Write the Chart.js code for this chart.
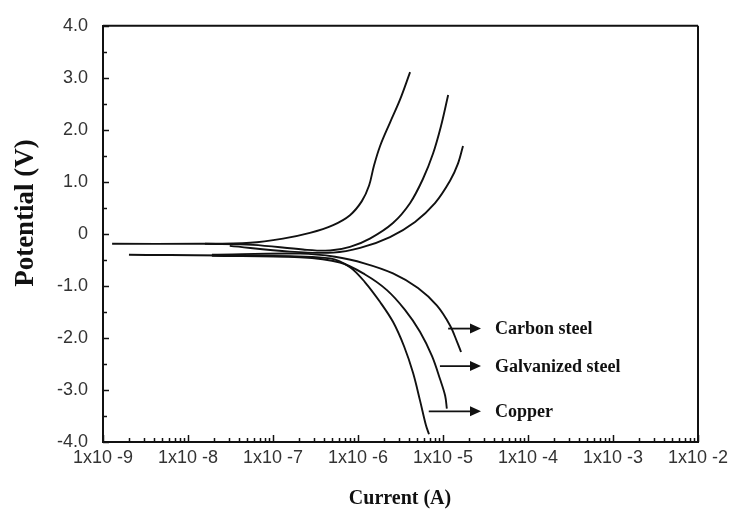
<!DOCTYPE html>
<html>
<head>
<meta charset="utf-8">
<script src="https://cdn.jsdelivr.net/npm/chart.js@4"></script>
<style>
  html, body { margin: 0; padding: 0; background: #fff; }
  #wrap { width: 739px; height: 516px; position: relative; }
</style>
</head>
<body>
<div id="wrap"><canvas id="chart"></canvas></div>
<script>
// Polarization curves: potential (V) vs current (A)

// anodic branches (upper)
const anodicCuI = [1.28e-9, 1.38e-8, 5.4e-8, 1.31e-7, 2.72e-7, 5.1e-7, 8.05e-7, 1.11e-6, 1.35e-6, 1.54e-6, 1.82e-6, 2.38e-6, 3.12e-6, 4.1e-6];
const anodicCuE = [-0.19, -0.19, -0.17, -0.09, 0.02, 0.17, 0.36, 0.63, 0.93, 1.31, 1.69, 2.14, 2.58, 3.11];
const anodicGalvI = [1.58e-8, 5.8e-8, 2.25e-7, 4.7e-7, 8.05e-7, 1.38e-6, 2.58e-6, 4.09e-6, 5.82e-6, 7.62e-6, 9.46e-6, 1.15e-5];
const anodicGalvE = [-0.19, -0.21, -0.30, -0.32, -0.25, -0.09, 0.21, 0.59, 1.06, 1.54, 2.07, 2.67];
const anodicCarbonI = [3.1e-8, 1.58e-7, 5.1e-7, 1.06e-6, 2.38e-6, 4.69e-6, 8.05e-6, 1.21e-5, 1.5e-5, 1.72e-5];
const anodicCarbonE = [-0.23, -0.34, -0.36, -0.27, -0.06, 0.23, 0.59, 1.02, 1.35, 1.69];

// cathodic branches (lower)
const cathCuI = [2.02e-9, 5.4e-8, 4.7e-7, 8.05e-7, 1.21e-6, 1.82e-6, 2.58e-6, 3.48e-6, 4.44e-6, 5.36e-6, 6.3e-6, 6.84e-6];
const cathCuE = [-0.40, -0.42, -0.47, -0.64, -0.93, -1.31, -1.69, -2.16, -2.67, -3.20, -3.68, -3.85];
const cathGalvI = [1.91e-8, 2.08e-7, 6.14e-7, 1.21e-6, 2.19e-6, 3.57e-6, 5.36e-6, 7.43e-6, 9.22e-6, 1.06e-5, 1.11e-5];
const cathGalvE = [-0.42, -0.45, -0.55, -0.78, -1.08, -1.46, -1.88, -2.35, -2.79, -3.11, -3.36];
const cathCarbonI = [1.91e-8, 2.08e-7, 5.36e-7, 1.21e-6, 2.58e-6, 5.08e-6, 8.5e-6, 1.21e-5, 1.46e-5, 1.63e-5];
const cathCarbonE = [-0.40, -0.38, -0.44, -0.57, -0.76, -1.04, -1.38, -1.76, -2.07, -2.27];

// axis ticks
const decadeExps = [-9, -8, -7, -6, -5, -4, -3, -2];
const potentialTicks = [-4, -3, -2, -1, 0, 1, 2, 3, 4];

// labels with arrows (pointing at cathodic branches)
const noteLabels = ['Carbon steel', 'Galvanized steel', 'Copper'];
const noteE = [-1.82, -2.54, -3.41];
const noteArrowFrom = [1.15e-5, 9.2e-6, 6.8e-6];
const noteArrowTo = [2.8e-5, 2.8e-5, 2.8e-5];
const noteTextAt = 4.1e-5;

const INK = '#111';

function pts(xs, ys) {
    return xs.map((x, i) => ({ x: x, y: ys[i] }));
}

function curve(label, xs, ys) {
    return {
        label: label,
        data: pts(xs, ys),
        showLine: true,
        borderColor: INK,
        borderWidth: 1.9,
        pointRadius: 0,
        tension: 0.35,
        fill: false
    };
}

// inward ticks, frame, titles and arrow notes
const decorations = {
    id: 'decorations',
    afterDraw(chart) {
        const ctx = chart.ctx;
        const xs = chart.scales.x, ys = chart.scales.y;
        const a = chart.chartArea;
        ctx.save();
        ctx.strokeStyle = INK;
        ctx.lineWidth = 1.5;

        // y ticks every 0.5
        for (let v = -4; v <= 4; v += 0.5) {
            const y = Math.round(ys.getPixelForValue(v)) + 0.5;
            const len = Number.isInteger(v) ? 6 : 4;
            ctx.beginPath();
            ctx.moveTo(a.left, y);
            ctx.lineTo(a.left + len, y);
            ctx.stroke();
        }
        // x ticks: decades + minor
        decadeExps.forEach(e => {
            for (let k = 1; k <= 9; k++) {
                const val = k * Math.pow(10, e);
                if (val > 1e-2 * 1.0001) break;
                const x = Math.round(xs.getPixelForValue(val)) + 0.5;
                const len = k === 1 ? 7 : 4;
                ctx.beginPath();
                ctx.moveTo(x, a.bottom);
                ctx.lineTo(x, a.bottom - len);
                ctx.stroke();
            }
        });

        // frame (top and right)
        ctx.lineWidth = 2;
        ctx.beginPath();
        ctx.moveTo(a.right, a.top);
        ctx.lineTo(a.right, a.bottom);
        ctx.moveTo(a.left, a.top);
        ctx.lineTo(a.right, a.top);
        ctx.stroke();

        // arrow notes
        ctx.fillStyle = INK;
        ctx.lineWidth = 1.8;
        ctx.font = 'bold 18px "Liberation Serif", "Times New Roman", serif';
        ctx.textBaseline = 'middle';
        ctx.textAlign = 'left';
        noteLabels.forEach((txt, i) => {
            const y = ys.getPixelForValue(noteE[i]);
            const x0 = xs.getPixelForValue(noteArrowFrom[i]);
            const x1 = xs.getPixelForValue(noteArrowTo[i]);
            ctx.beginPath();
            ctx.moveTo(x0, y);
            ctx.lineTo(x1 - 9, y);
            ctx.stroke();
            ctx.beginPath();
            ctx.moveTo(x1, y);
            ctx.lineTo(x1 - 11, y - 5);
            ctx.lineTo(x1 - 11, y + 5);
            ctx.closePath();
            ctx.fill();
            ctx.fillText(txt, xs.getPixelForValue(noteTextAt), y + 1);
        });

        // axis titles
        ctx.textAlign = 'center';
        ctx.font = 'bold 20px "Liberation Serif", "Times New Roman", serif';
        ctx.fillText('Current (A)', 400, 499);
        ctx.save();
        ctx.translate(26, 213);
        ctx.rotate(-Math.PI / 2);
        ctx.font = 'bold 27px "Liberation Serif", "Times New Roman", serif';
        ctx.fillText('Potential (V)', 0, 0);
        ctx.restore();

        ctx.restore();
    }
};

new Chart(document.getElementById('chart'), {
    type: 'scatter',
    data: {
        datasets: [
            curve('Copper (anodic)', anodicCuI, anodicCuE),
            curve('Galvanized steel (anodic)', anodicGalvI, anodicGalvE),
            curve('Carbon steel (anodic)', anodicCarbonI, anodicCarbonE),
            curve('Copper', cathCuI, cathCuE),
            curve('Galvanized steel', cathGalvI, cathGalvE),
            curve('Carbon steel', cathCarbonI, cathCarbonE)
        ]
    },
    options: {
        responsive: true,
        maintainAspectRatio: false,
        animation: false,
        layout: { padding: { top: 20, right: 41, left: 0, bottom: 0 } },
        plugins: {
            legend: { display: false },
            tooltip: { enabled: false }
        },
        scales: {
            x: {
                type: 'logarithmic',
                position: 'bottom',
                min: 1e-9,
                max: 1e-2,
                afterFit: s => { s.height = 74; },
                afterBuildTicks: s => {
                    s.ticks = decadeExps.map(e => ({ value: Math.pow(10, e) }));
                },
                grid: { drawOnChartArea: false, drawTicks: false },
                border: { display: true, color: INK, width: 2 },
                ticks: {
                    autoSkip: false,
                    maxRotation: 0,
                    padding: 5,
                    color: '#333',
                    font: { family: '"Liberation Sans", Arial, sans-serif', size: 18 },
                    callback: v => '1x10 ' + Math.round(Math.log10(v))
                }
            },
            y: {
                min: -4,
                max: 4,
                afterFit: s => { s.width = 103; },
                afterBuildTicks: s => {
                    s.ticks = potentialTicks.map(v => ({ value: v }));
                },
                grid: { drawOnChartArea: false, drawTicks: false },
                border: { display: true, color: INK, width: 2 },
                ticks: {
                    padding: 15,
                    color: '#333',
                    font: { family: '"Liberation Sans", Arial, sans-serif', size: 18 },
                    callback: v => v === 0 ? '0' : v.toFixed(1)
                }
            }
        }
    },
    plugins: [decorations]
});
</script>
</body>
</html>
